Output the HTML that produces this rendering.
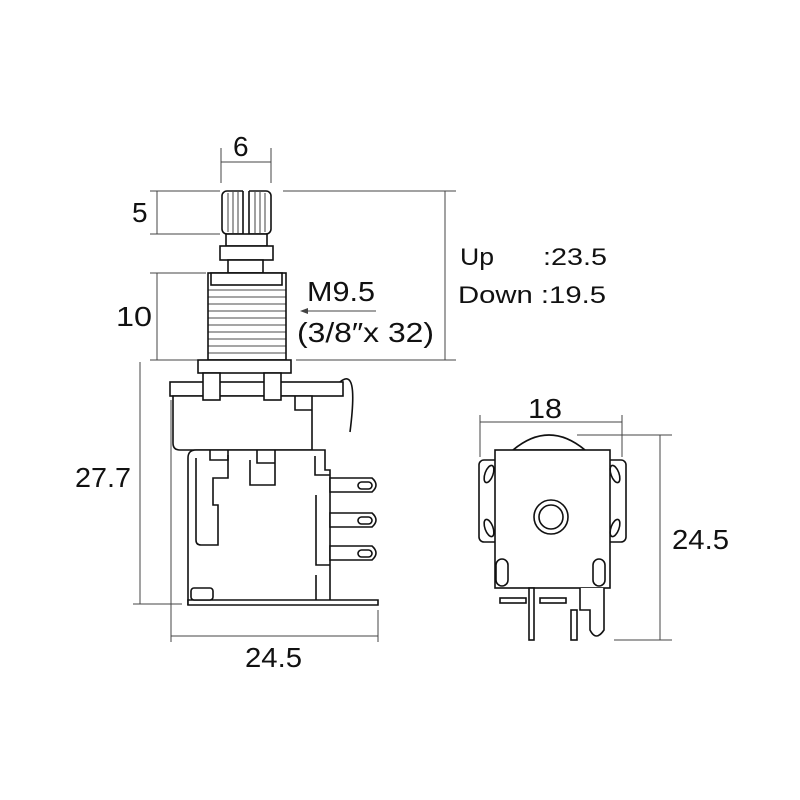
<!DOCTYPE html>
<html><head><meta charset="utf-8"><style>body{margin:0;background:#fff}svg{display:block}</style></head>
<body>
<svg width="800" height="800" viewBox="0 0 800 800" xmlns="http://www.w3.org/2000/svg" font-family="Liberation Sans, sans-serif" fill="none">
<g stroke="#444" stroke-width="1">
<line x1="221" y1="148" x2="221" y2="183"/><line x1="271" y1="148" x2="271" y2="183"/><line x1="221" y1="162" x2="271" y2="162"/>
<line x1="150" y1="191" x2="220" y2="191"/><line x1="150" y1="234" x2="220" y2="234"/><line x1="157" y1="191" x2="157" y2="234"/>
<line x1="150" y1="273" x2="206" y2="273"/><line x1="150" y1="360" x2="200" y2="360"/><line x1="157" y1="273" x2="157" y2="360"/>
<line x1="283" y1="191" x2="456" y2="191"/><line x1="296" y1="360" x2="456" y2="360"/><line x1="445" y1="191" x2="445" y2="360"/>
<line x1="302" y1="311" x2="376" y2="311"/>
<line x1="140" y1="362" x2="140" y2="604"/><line x1="133" y1="604" x2="182" y2="604"/>
<line x1="171" y1="400" x2="171" y2="642"/><line x1="378" y1="610" x2="378" y2="642"/><line x1="171" y1="636" x2="378" y2="636"/>
<line x1="480" y1="415" x2="480" y2="457"/><line x1="622" y1="415" x2="622" y2="457"/><line x1="480" y1="422" x2="622" y2="422"/>
<line x1="577" y1="435" x2="672" y2="435"/><line x1="614" y1="640" x2="672" y2="640"/><line x1="660" y1="435" x2="660" y2="640"/>
</g>
<path d="M300 311 l8 -3 v6z" fill="#444"/>
<g fill="#111" font-size="28">
<text x="233" y="156">6</text>
<text x="132" y="222">5</text>
<text x="116" y="326" textLength="36" lengthAdjust="spacingAndGlyphs">10</text>
<text x="75" y="487" textLength="56" lengthAdjust="spacingAndGlyphs">27.7</text>
<text x="245" y="667" textLength="57" lengthAdjust="spacingAndGlyphs">24.5</text>
<text x="528" y="418" textLength="34" lengthAdjust="spacingAndGlyphs">18</text>
<text x="672" y="549" textLength="57" lengthAdjust="spacingAndGlyphs">24.5</text>
<text x="307" y="301" textLength="68" lengthAdjust="spacingAndGlyphs">M9.5</text>
<text x="297" y="342" textLength="137" lengthAdjust="spacingAndGlyphs">(3/8″x 32)</text>
<text x="460" y="265" font-size="24" textLength="34" lengthAdjust="spacingAndGlyphs">Up</text>
<text x="543" y="265" font-size="24" textLength="64" lengthAdjust="spacingAndGlyphs">:23.5</text>
<text x="458" y="303" font-size="24" textLength="148" lengthAdjust="spacingAndGlyphs">Down :19.5</text>
</g>
<g stroke="#111" stroke-width="1.6" fill="#fff">
<rect x="222" y="191" width="49" height="43" rx="5"/>
<g stroke-width="0.8"><line x1="228" y1="193" x2="228" y2="232"/><line x1="233" y1="192" x2="233" y2="233"/><line x1="238" y1="192" x2="238" y2="233"/><line x1="255" y1="192" x2="255" y2="233"/><line x1="260" y1="192" x2="260" y2="233"/><line x1="265" y1="193" x2="265" y2="232"/></g>
<rect x="243" y="189" width="6" height="52" stroke="none"/>
<path d="M243 191 V240 H249 V191"/>
<rect x="226" y="234" width="41" height="12"/>
<rect x="220" y="246" width="53" height="14"/>
<rect x="228" y="260" width="35" height="13"/>
<rect x="208" y="273" width="78" height="87"/>
<rect x="211" y="273" width="71" height="12"/>
<g stroke-width="0.8"><path d="M208 290 H286 M208 297 H286 M208 304 H286 M208 311 H286 M208 318 H286 M208 325 H286 M208 332 H286 M208 339 H286 M208 346 H286 M208 353 H286"/></g>
<rect x="198" y="360" width="93" height="13"/>
<rect x="170" y="382" width="173" height="14"/>
<path d="M340 382 C352 372 356 385 350 432" fill="none"/>
<path d="M173 396 H312 V450 H180 Q173 450 173 443Z"/>
<path d="M295 396 V410 H312" fill="none"/>
<rect x="203" y="373" width="17" height="27"/>
<rect x="264" y="373" width="17" height="27"/>
<path d="M188 605 V458 Q188 450 196 450 H325 V470 H330 V600"/>
<path d="M188 600 H378 V605 H188Z"/>
<path d="M196 458 V540 Q196 545 201 545 H218 V505 H213 V478 H228 V455" fill="none"/>
<path d="M210 450 V460 H228 V450 M257 450 V463 H275 V450 M250 460 V485 H275 V460" fill="none"/>
<path d="M315 456 V475 H330 M316 495 V565 H330 M316 575 V600" fill="none"/>
<path d="M330 478 H372 Q380 485 372 492 H330Z"/>
<path d="M330 513 H372 Q380 520 372 527 H330Z"/>
<path d="M330 546 H372 Q380 553 372 560 H330Z"/>
<rect x="358" y="482" width="14" height="7" rx="3.5"/>
<rect x="358" y="517" width="14" height="7" rx="3.5"/>
<rect x="358" y="550" width="14" height="7" rx="3.5"/>
<rect x="191" y="588" width="22" height="12" rx="3"/>
<path d="M513 450 Q549 420 585 450Z"/>
<rect x="479" y="460" width="20" height="82" rx="5"/>
<rect x="606" y="460" width="20" height="82" rx="5"/>
<rect x="495" y="450" width="115" height="138"/>
<path d="M580 588 V610 H590 V630 Q596 642 604 630 V588" />
<circle cx="551" cy="517" r="17"/><circle cx="551" cy="517" r="12"/>
<rect x="496" y="559" width="12" height="27" rx="6"/>
<rect x="593" y="559" width="12" height="27" rx="6"/>
<ellipse cx="489" cy="474" rx="4" ry="9" transform="rotate(20 489 474)"/><ellipse cx="489" cy="528" rx="4" ry="9" transform="rotate(-20 489 528)"/>
<ellipse cx="615" cy="474" rx="4" ry="9" transform="rotate(-20 615 474)"/><ellipse cx="615" cy="528" rx="4" ry="9" transform="rotate(20 615 528)"/>
<rect x="529" y="588" width="5" height="52"/>
<rect x="571" y="610" width="6" height="30"/>
<rect x="500" y="598" width="26" height="5"/>
<rect x="540" y="598" width="26" height="5"/>
</g>
</svg>
</body></html>
